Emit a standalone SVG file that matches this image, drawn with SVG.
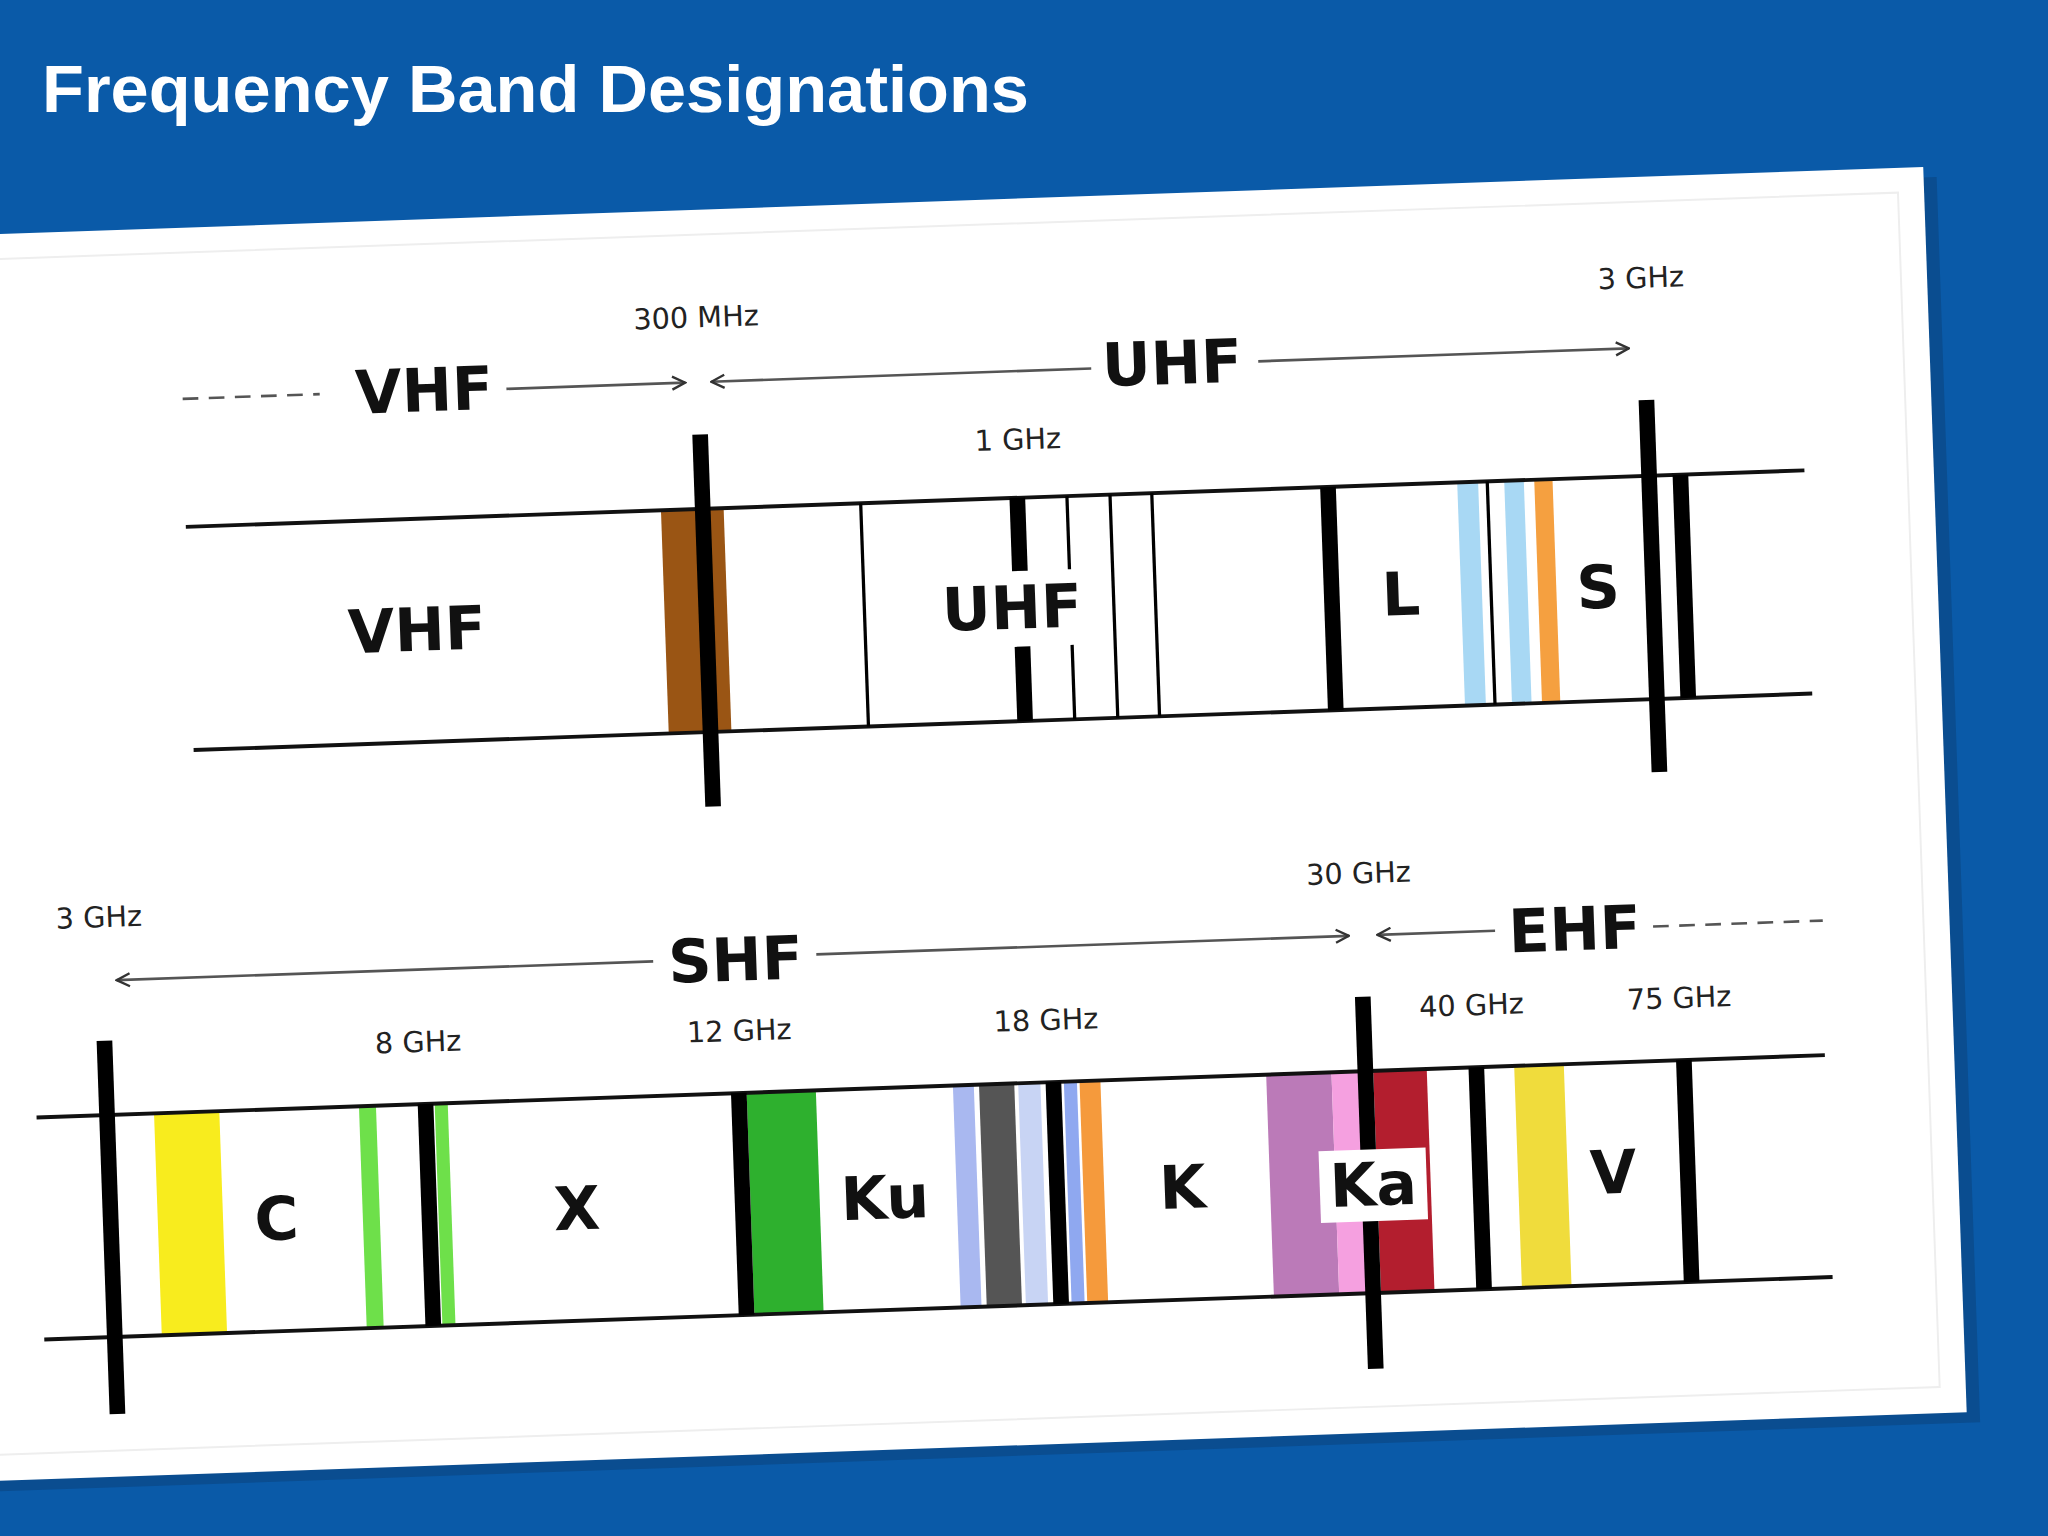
<svg xmlns="http://www.w3.org/2000/svg" width="2048" height="1536" viewBox="0 0 2048 1536">
<defs>
<style>
.ln{stroke:#111;stroke-width:3;fill:none}
.bar{stroke:#000;stroke-width:12}
.thin{stroke:#000;stroke-width:2.5}
.big{font-family:"DejaVu Sans",sans-serif;font-weight:bold;font-size:46px;fill:#111;text-anchor:middle}
.sm{font-family:"DejaVu Sans",sans-serif;font-size:22px;fill:#222;text-anchor:middle}
.arr{stroke:#555;stroke-width:2;fill:none}
.dash{stroke:#555;stroke-width:2;stroke-dasharray:12 8;fill:none}
</style>
<marker id="ah" viewBox="0 0 12 12" refX="11" refY="6" markerWidth="12" markerHeight="12" markerUnits="userSpaceOnUse" orient="auto">
<path d="M1,1 L11,6 L1,11" fill="none" stroke="#333" stroke-width="1.8"/>
</marker>
</defs>
<rect width="2048" height="1536" fill="#0a5aa8"/>
<text x="42" y="112" font-family="Liberation Sans,Arial,sans-serif" font-weight="bold" font-size="66" fill="#fff" textLength="987" lengthAdjust="spacingAndGlyphs">Frequency Band Designations</text>
<g transform="scale(1.30612)">
<g transform="rotate(-2 760 700)">
<rect x="-30" y="161" width="1532" height="954" fill="#0a3f78" opacity="0.5"/>
<rect id="card" x="-40" y="153" width="1532" height="954" fill="#fff"/>
<rect x="-40" y="172" width="1512" height="915" fill="none" stroke="#eee" stroke-width="1.5"/>
<g id="connectors">
<line class="dash" x1="154" y1="284" x2="259" y2="284"/>
<line class="arr" x1="402" y1="285" x2="539" y2="285" marker-end="url(#ah)"/>
<line class="arr" x1="850" y1="285" x2="559" y2="285" marker-end="url(#ah)"/>
<line class="arr" x1="978" y1="284" x2="1262" y2="284" marker-end="url(#ah)"/>
<line class="arr" x1="499" y1="727" x2="88" y2="727" marker-end="url(#ah)"/>
<line class="arr" x1="624" y1="726" x2="1032" y2="726" marker-end="url(#ah)"/>
<line class="arr" x1="1144" y1="726" x2="1054" y2="726" marker-end="url(#ah)"/>
<line class="dash" x1="1265" y1="727" x2="1395" y2="727"/>
</g>
<g id="top-labels">
<text class="big" x="339" y="300">VHF</text>
<text class="big" x="912" y="299">UHF</text>
<text class="sm" x="549" y="243">300 MHz</text>
<text class="sm" x="792" y="345">1 GHz</text>
<text class="sm" x="1273" y="238">3 GHz</text>
</g>
<g id="top-band">
<rect x="517" y="382" width="48" height="171" fill="#9a5514"/>
<rect x="1127" y="382" width="16" height="171" fill="#a8d8f4"/>
<rect x="1163" y="382" width="15" height="171" fill="#a8d8f4"/>
<rect x="1186" y="382" width="14" height="171" fill="#f5a040"/>
<line class="ln" x1="153" y1="382" x2="1393" y2="382"/>
<line class="ln" x1="153" y1="553" x2="1393" y2="553"/>
<line class="bar" x1="549" y1="325" x2="549" y2="610"/>
<line class="thin" x1="670" y1="382" x2="670" y2="553"/>
<line class="bar" x1="790" y1="382" x2="790" y2="438"/>
<line class="bar" x1="790" y1="496" x2="790" y2="553"/>
<line class="thin" x1="828" y1="382" x2="828" y2="438"/>
<line class="thin" x1="828" y1="496" x2="828" y2="553"/>
<line class="thin" x1="861" y1="382" x2="861" y2="553"/>
<line class="thin" x1="893" y1="382" x2="893" y2="553"/>
<line class="bar" x1="1028" y1="382" x2="1028" y2="553"/>
<line class="thin" x1="1150" y1="382" x2="1150" y2="553"/>
<line class="bar" x1="1274" y1="324" x2="1274" y2="609"/>
<line class="bar" x1="1298" y1="382" x2="1298" y2="553"/>
<text class="big" x="327" y="483">VHF</text>
<text class="big" x="783" y="482">UHF</text>
<text class="big" x="1081" y="482">L</text>
<text class="big" x="1232" y="482">S</text>
</g>
<g id="bottom-labels">
<text class="big" x="562" y="744">SHF</text>
<text class="big" x="1205" y="743">EHF</text>
<text class="sm" x="76" y="686">3 GHz</text>
<text class="sm" x="317" y="790">8 GHz</text>
<text class="sm" x="563" y="790">12 GHz</text>
<text class="sm" x="798" y="790">18 GHz</text>
<text class="sm" x="1041" y="686">30 GHz</text>
<text class="sm" x="1124" y="790">40 GHz</text>
<text class="sm" x="1283" y="790">75 GHz</text>
</g>
<g id="bottom-band">
<rect x="113" y="830" width="50" height="170" fill="#f8ec1e"/>
<rect x="270" y="830" width="13" height="170" fill="#6ee04a"/>
<rect x="328" y="830" width="10" height="170" fill="#6ee04a"/>
<rect x="567" y="830" width="53" height="170" fill="#2eb02e"/>
<rect x="725" y="830" width="16" height="170" fill="#a9b8f0"/>
<rect x="745" y="830" width="27" height="170" fill="#555"/>
<rect x="775" y="830" width="17" height="170" fill="#c8d4f4"/>
<rect x="810" y="830" width="10" height="170" fill="#8fa8f0"/>
<rect x="822" y="830" width="16" height="170" fill="#f59a3c"/>
<rect x="965" y="830" width="50" height="170" fill="#bb7ab8"/>
<rect x="1015" y="830" width="26" height="170" fill="#f5a0e0"/>
<rect x="1047" y="830" width="41" height="170" fill="#b31e2e"/>
<rect x="1155" y="830" width="38" height="170" fill="#f0dc3c"/>
<line class="ln" x1="23" y1="830" x2="1393" y2="830"/>
<line class="ln" x1="23" y1="1000" x2="1393" y2="1000"/>
<line class="bar" x1="77" y1="773" x2="77" y2="1059"/>
<line class="bar" x1="321" y1="830" x2="321" y2="1000"/>
<line class="bar" x1="561" y1="830" x2="561" y2="1000"/>
<line class="bar" x1="802" y1="830" x2="802" y2="1000" stroke-width="14"/>
<line class="bar" x1="1041" y1="773" x2="1041" y2="1058"/>
<line class="bar" x1="1126" y1="830" x2="1126" y2="1000"/>
<line class="bar" x1="1285" y1="830" x2="1285" y2="1000" stroke-width="14"/>
<rect x="1003" y="890" width="82" height="55" fill="#fff"/>
<text class="big" x="204" y="930">C</text>
<text class="big" x="434" y="930">X</text>
<text class="big" x="670" y="930">Ku</text>
<text class="big" x="898" y="930">K</text>
<text class="big" x="1044" y="933">Ka</text>
<text class="big" x="1228" y="930">V</text>
</g>
</g>
</g>
</svg>
